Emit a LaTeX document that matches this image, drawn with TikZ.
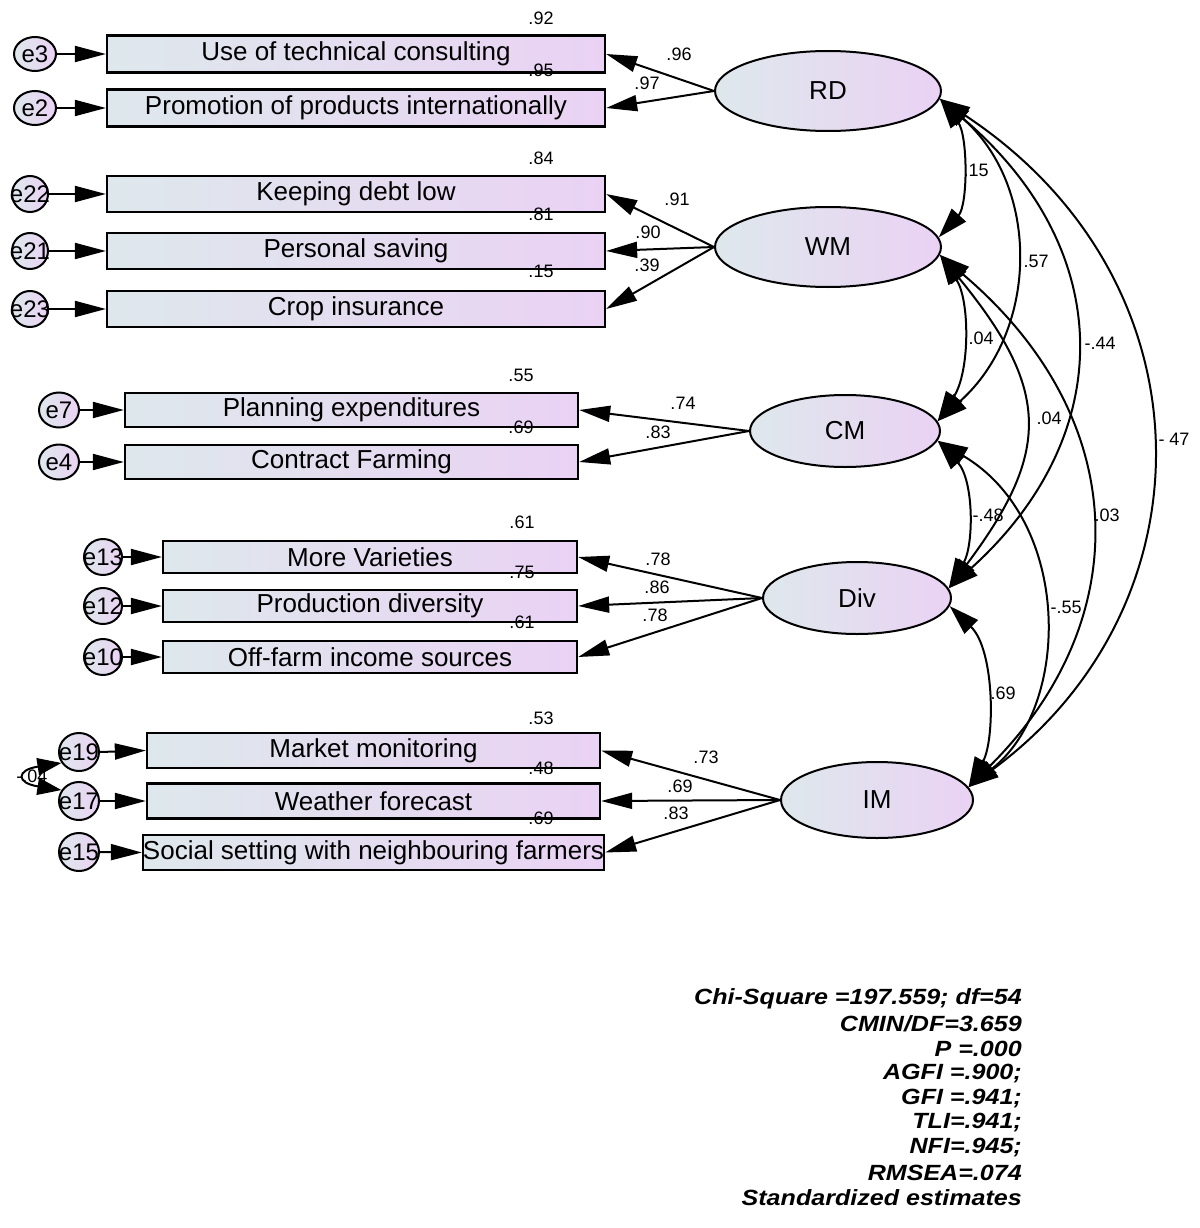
\documentclass[tikz,border=0pt]{standalone}
\usepackage{fontspec}
\usepackage{graphicx}
\setmainfont{Liberation Sans}
\usetikzlibrary{arrows.meta,shapes.geometric}
\definecolor{gL}{RGB}{222,232,236}
\definecolor{gR}{RGB}{234,210,244}
\newcommand{\zw}[1]{\makebox[0pt]{#1}}
\begin{document}
\begin{tikzpicture}[x=1pt,y=-1pt,
  grad/.style={left color=gL, right color=gR},
  ind/.style={draw, line width=2.3pt, grad, inner sep=0pt, minimum height=36pt, font=\fontsize{26}{30}\selectfont},
  lat/.style={ellipse, draw, line width=2pt, grad, inner sep=0pt, font=\fontsize{26}{30}\selectfont},
  err/.style={ellipse, draw, line width=2pt, grad, inner sep=0pt, font=\fontsize{24}{26}\selectfont},
  lbl/.style={font=\fontsize{18}{20}\selectfont, inner sep=0pt},
  stat/.style={font=\fontsize{22}{24}\selectfont\bfseries\itshape, inner sep=0pt, anchor=east},
  ld/.style={line width=2pt, -{Triangle[length=31pt,width=16pt]}},
  cov/.style={line width=2pt, {Triangle[length=30pt,width=19pt]}-{Triangle[length=30pt,width=19pt]}},
  cov2/.style={line width=2pt, {Triangle[length=24pt,width=17pt]}-{Triangle[length=24pt,width=17pt]}},
]
\fill[white] (0,0) rectangle (1199,1228);
\useasboundingbox (0,0) rectangle (1199,1228);

% ---------------- latent variables
\node[lat, minimum width=226pt, minimum height=80pt] (RD) at (828,91) {RD};
\node[lat, minimum width=226pt, minimum height=80pt] (WM) at (828,247) {WM};
\node[lat, minimum width=190pt, minimum height=72pt] (CM) at (845,431) {CM};
\node[lat, minimum width=188pt, minimum height=72pt] (Div) at (857,598) {Div};
\node[lat, minimum width=192pt, minimum height=76pt] (IM) at (877,800) {IM};

% ---------------- indicators
\node[ind, minimum width=498pt, minimum height=37pt] (b3) at (356,54) {Use of technical consulting};
\node[ind, minimum width=498pt, minimum height=37pt] (b2) at (356,108) {Promotion of products internationally};
\node[ind, minimum width=498pt] (b22) at (356,194) {Keeping debt low};
\node[ind, minimum width=498pt] (b21) at (356,251) {Personal saving};
\node[ind, minimum width=498pt] (b23) at (356,309) {Crop insurance};
\node[ind, minimum width=453pt, minimum height=34pt] (b7) at (351.5,410) {Planning expenditures};
\node[ind, minimum width=453pt, minimum height=34pt] (b4) at (351.5,462) {Contract Farming};
\node[ind, minimum width=414pt, minimum height=32pt] (b13) at (370,557) {More Varieties};
\node[ind, minimum width=414pt, minimum height=32pt] (b12) at (370,606) {Production diversity};
\node[ind, minimum width=414pt, minimum height=32pt] (b10) at (370,657) {Off-farm income sources};
\node[ind, minimum width=453pt, minimum height=35pt] (b19) at (373.5,750.5) {Market monitoring};
\node[ind, minimum width=453pt, minimum height=35pt] (b17) at (373.5,801) {Weather forecast};
\node[ind, minimum width=453pt, minimum height=35pt] (b15) at (373.5,852.5) {Social setting with neighbouring farmers};

% ---------------- error terms
\node[err, minimum width=42pt, minimum height=34pt] (e3) at (35,54) {\zw{e3}};
\node[err, minimum width=42pt, minimum height=34pt] (e2) at (35,108) {\zw{e2}};
\node[err, minimum width=36pt, minimum height=36pt] (e22) at (30,194) {\zw{e22}};
\node[err, minimum width=36pt, minimum height=36pt] (e21) at (30,251) {\zw{e21}};
\node[err, minimum width=36pt, minimum height=36pt] (e23) at (30,309) {\zw{e23}};
\node[err, minimum width=40pt, minimum height=35pt] (e7) at (59,410) {\zw{e7}};
\node[err, minimum width=40pt, minimum height=35pt] (e4) at (59,462) {\zw{e4}};
\node[err, minimum width=38pt, minimum height=36pt] (e13) at (103,557) {\zw{e13}};
\node[err, minimum width=38pt, minimum height=36pt] (e12) at (103,606) {\zw{e12}};
\node[err, minimum width=38pt, minimum height=36pt] (e10) at (103,657) {\zw{e10}};
\node[err, minimum width=40pt, minimum height=38pt] (e19) at (79,752) {\zw{e19}};
\node[err, minimum width=40pt, minimum height=38pt] (e17) at (79,801) {\zw{e17}};
\node[err, minimum width=40pt, minimum height=38pt] (e15) at (79,852) {\zw{e15}};

% ---------------- error arrows
\foreach \n in {3,2,22,21,23,7,4,13,12,10,19,17,15}
  \draw[ld] (e\n.east) -- (b\n.west);

% ---------------- loadings
\draw[ld] (RD.west) -- (b3.east);
\draw[ld] (RD.west) -- (b2.east);
\draw[ld] (WM.west) -- (b22.east);
\draw[ld] (WM.west) -- (b21.east);
\draw[ld] (WM.west) -- (b23.east);
\draw[ld] (CM.west) -- (b7.east);
\draw[ld] (CM.west) -- (b4.east);
\draw[ld] (Div.west) -- (b13.east);
\draw[ld] (Div.west) -- (b12.east);
\draw[ld] (Div.west) -- (b10.east);
\draw[ld] (IM.west) -- (b19.east);
\draw[ld] (IM.west) -- (b17.east);
\draw[ld] (IM.west) -- (b15.east);

% ---------------- correlations
\draw[cov] (RD.-4) .. controls (968,135) and (968,205) .. (WM.5);
\draw[cov] (RD.-4) .. controls (1040,185) and (1040,330) .. (CM.6);
\draw[cov] (RD.-4) .. controls (1118,250) and (1118,436) .. (Div.6);
\draw[cov] (RD.-4) .. controls (1215,280) and (1215,606) .. (IM.8);
\draw[cov] (WM.-4) .. controls (970,300) and (970,372) .. (CM.6);
\draw[cov] (WM.-4) .. controls (1051,390) and (1051,452) .. (Div.6);
\draw[cov] (WM.-4) .. controls (1135,420) and (1135,622) .. (IM.8);
\draw[cov] (CM.-6) .. controls (974,480) and (974,545) .. (Div.6);
\draw[cov] (CM.-6) .. controls (1072,520) and (1072,706) .. (IM.8);
\draw[cov] (Div.-5) .. controls (995,650) and (995,740) .. (IM.8);

% error covariance
\node[lbl] (c1917) at (32,776) {-.04};
\draw[cov2] (e19.212) .. controls (16,770) and (16,783) .. (e17.148);

% ---------------- correlation labels
\node[lbl] at (976,170) {.15};
\node[lbl] at (1036,261) {.57};
\node[lbl] at (981,338) {.04};
\node[lbl] at (1100,343) {-.44};
\node[lbl] at (1049,418) {.04};
\node[lbl] at (1174,439) {- 47};
\node[lbl] at (988,515) {-.48};
\node[lbl] at (1107,515) {.03};
\node[lbl] at (1066,607) {-.55};
\node[lbl] at (1003,693) {.69};

% ---------------- loading labels
\node[lbl] at (679,54) {.96};
\node[lbl] at (647,83) {.97};
\node[lbl] at (677,199) {.91};
\node[lbl] at (648,232) {.90};
\node[lbl] at (647,265) {.39};
\node[lbl] at (683,403) {.74};
\node[lbl] at (658,432) {.83};
\node[lbl] at (658,559) {.78};
\node[lbl] at (657,587) {.86};
\node[lbl] at (655,615) {.78};
\node[lbl] at (706,757) {.73};
\node[lbl] at (680,786) {.69};
\node[lbl] at (676,813) {.83};

% ---------------- squared multiple correlations
\node[lbl] at (541,18) {.92};
\node[lbl] at (541,70) {.95};
\node[lbl] at (541,158) {.84};
\node[lbl] at (541,214) {.81};
\node[lbl] at (541,271) {.15};
\node[lbl] at (521,375) {.55};
\node[lbl] at (521,427) {.69};
\node[lbl] at (522,522) {.61};
\node[lbl] at (522,572) {.75};
\node[lbl] at (522,622) {.61};
\node[lbl] at (541,718) {.53};
\node[lbl] at (541,768) {.48};
\node[lbl] at (541,818) {.69};

% ---------------- fit statistics
\node[stat] (s1) at (1022,999) {\scalebox{1.14}[1]{Chi-Square =197.559; df=54}};
\node[stat] (s2) at (1022,1024) {\scalebox{1.14}[1]{CMIN/DF=3.659}};
\node[stat] (s3) at (1022,1049) {\scalebox{1.14}[1]{P =.000}};
\node[stat] (s4) at (1022,1074) {\scalebox{1.14}[1]{AGFI =.900;}};
\node[stat] (s5) at (1022,1099) {\scalebox{1.14}[1]{GFI =.941;}};
\node[stat] (s6) at (1022,1123) {\scalebox{1.14}[1]{TLI=.941;}};
\node[stat] (s7) at (1022,1148) {\scalebox{1.14}[1]{NFI=.945;}};
\node[stat] (s8) at (1022,1173) {\scalebox{1.14}[1]{RMSEA=.074}};
\node[stat] (s9) at (1022,1198) {\scalebox{1.14}[1]{Standardized estimates}};
\end{tikzpicture}
\end{document}
